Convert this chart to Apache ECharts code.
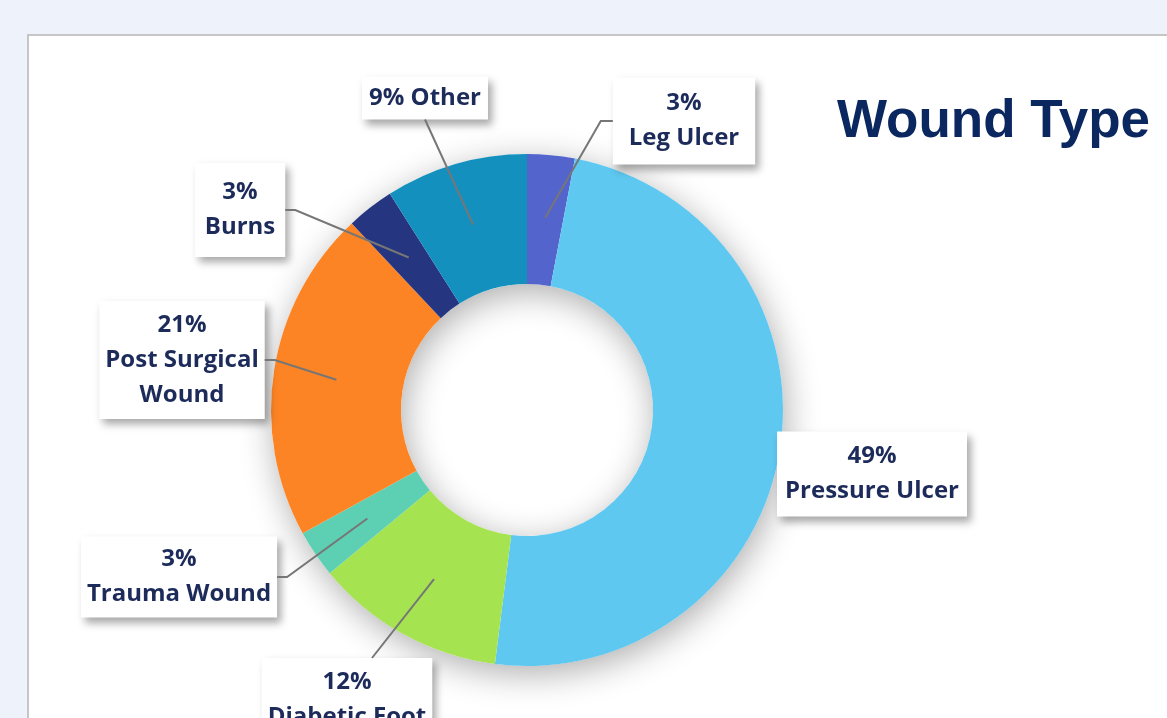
<!DOCTYPE html>
<html>
<head>
<meta charset="utf-8">
<script src="https://cdn.jsdelivr.net/npm/echarts@6/dist/echarts.min.js"></script>
<style>
html,body{margin:0;padding:0;background:#eef3fb;}
#c{width:1167px;height:718px;}
</style>
</head>
<body>
<div id="c"></div>
<script>
// ---- data ----
const categories = ['Leg Ulcer', 'Pressure Ulcer', 'Diabetic Foot', 'Trauma Wound', 'Post Surgical Wound', 'Burns', 'Other'];
const values = [3, 49, 12, 3, 21, 3, 9];
const labelNames = ['Leg Ulcer', 'Pressure Ulcer', 'Diabetic Foot', 'Trauma Wound', 'Post Surgical\nWound', 'Burns', 'Other'];
const colors = ['#5364cd', '#5ec8f0', '#a6e350', '#5dcfb2', '#fd8424', '#26357f', '#1490bf'];

// ---- layout (not data) ----
const cx = 527, cy = 410, rIn = 126, rOut = 256, startR = 193;
const labelPos = [[684, 121], [872, 474], [347, 700], [179, 577], [182, 360], [240, 210], [425, 98]];
const labelAnchor = ['left', 'none', 'top', 'right', 'right', 'right', 'bottom'];
const labelPad = [[9, 16, 8, 16], [7, 8, 8, 8], [6, 6, 8, 6], [5, 6, 6, 6], [7, 6, 6, 6], [11, 10, 13, 10], [4, 7, 4, 7]];

const total = values.reduce((a, b) => a + b, 0);
function midAngle(i) {
  let cum = 0;
  for (let k = 0; k < i; k++) cum += values[k];
  return (cum + values[i] / 2) / total * Math.PI * 2; // clockwise from top
}

const guidePoints = [];
const panel = {
  type: 'rect', z: -10, silent: true,
  shape: { x: 28, y: 35, width: 1200, height: 800 },
  style: { fill: '#ffffff', stroke: '#c6c6c6', lineWidth: 2 }
};

const chart = echarts.init(document.getElementById('c'));
const pieData = categories.map((name, i) => ({
  name: name,
  value: values[i],
  itemStyle: { color: colors[i] },
  label: { padding: labelPad[i] }
}));

chart.setOption({
  backgroundColor: '#eef3fb',
  animation: false,
  graphic: [panel],
  title: {
    text: 'Wound Type',
    left: 832, top: 91,
    textStyle: { fontFamily: 'Liberation Sans', fontWeight: 'bold', fontSize: 53, color: '#0b2760' }
  },
  series: [{
    type: 'pie',
    silent: true,
    z: 1,
    center: [cx, cy],
    radius: [rIn, rOut],
    data: [{ value: 1, name: '' }],
    label: { show: false },
    labelLine: { show: false },
    itemStyle: { color: '#ffffff', shadowBlur: 34, shadowColor: 'rgba(0,0,0,0.32)', shadowOffsetX: 3, shadowOffsetY: 8 }
  }, {
    type: 'pie',
    z: 3,
    center: [cx, cy],
    radius: [rIn, rOut],
    startAngle: 90,
    clockwise: true,
    avoidLabelOverlap: false,
    data: pieData,
    itemStyle: { borderWidth: 0 },
    label: {
      show: true,
      position: 'outside',
      formatter: function (p) {
        const sep = p.dataIndex === 6 ? ' ' : '\n';
        return Math.round(p.percent) + '%' + sep + labelNames[p.dataIndex];
      },
      fontFamily: 'Open Sans',
      fontWeight: 'bold',
      fontSize: 24,
      lineHeight: 35,
      color: '#1c2b5a',
      align: 'center',
      backgroundColor: '#ffffff',
      shadowColor: 'rgba(0,0,0,0.35)',
      shadowBlur: 8,
      shadowOffsetX: 4,
      shadowOffsetY: 5
    },
    labelLine: { show: false },
    labelLayout: function (p) {
      const i = p.dataIndex;
      const pos = labelPos[i];
      const w = p.labelRect.width, h = p.labelRect.height;
      const a = midAngle(i);
      const sx = cx + startR * Math.sin(a), sy = cy - startR * Math.cos(a);
      let pts = null;
      const an = labelAnchor[i];
      if (an === 'left') {
        const ex = pos[0] - w / 2, ey = pos[1];
        pts = [[sx, sy], [ex - 12, ey], [ex, ey]];
      } else if (an === 'right') {
        const ex = pos[0] + w / 2, ey = pos[1];
        pts = [[sx, sy], [ex + 10, ey], [ex, ey]];
      } else if (an === 'bottom') {
        const ex = pos[0], ey = pos[1] + h / 2;
        pts = [[sx, sy], [ex, ey]];
      } else if (an === 'top') {
        const ex = pos[0] + 25, ey = pos[1] - h / 2;
        pts = [[sx, sy], [ex, ey]];
      }
      guidePoints[i] = pts;
      return { x: pos[0], y: pos[1], align: 'center', verticalAlign: 'middle' };
    }
  }]
});

// label guide lines drawn above the ring, from the computed slice mid-angles
const lines = [];
guidePoints.forEach(function (pts) {
  if (!pts) return;
  lines.push({
    type: 'polyline', z: 50, silent: true,
    shape: { points: pts },
    style: { stroke: '#767676', lineWidth: 2, fill: null }
  });
});
chart.setOption({ graphic: [panel].concat(lines) }, { replaceMerge: ['graphic'] });
</script>
</body>
</html>
